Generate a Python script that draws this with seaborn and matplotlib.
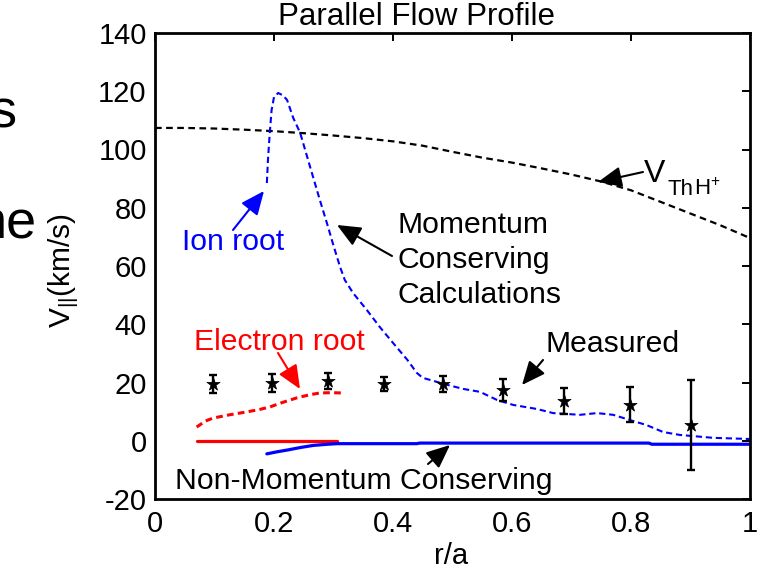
import matplotlib
matplotlib.use("Agg")
import matplotlib.pyplot as plt
import seaborn as sns
import pandas as pd

# ---- data -------------------------------------------------------------
# ion thermal speed V_Th,H+
r_vth = [0.0, 0.05, 0.1, 0.15, 0.2, 0.25, 0.3, 0.35, 0.4, 0.45, 0.5,
         0.55, 0.6, 0.65, 0.7, 0.75, 0.8, 0.85, 0.9, 0.95, 1.0]
v_vth = [107.4, 107.4, 107.2, 106.8, 106.3, 105.6, 104.8, 103.9, 102.8,
         101.3, 99.2, 97.2, 95.5, 93.5, 91.4, 89.0, 86.0, 82.0, 78.0,
         74.0, 69.6]

# momentum-conserving calculation, ion root
r_ion_mc = [0.188, 0.19, 0.193, 0.196, 0.2, 0.207, 0.215, 0.222, 0.232,
            0.244, 0.26, 0.277, 0.29, 0.30, 0.311, 0.319, 0.333, 0.356,
            0.378, 0.40, 0.424, 0.44, 0.45, 0.474, 0.491, 0.518, 0.546,
            0.575, 0.602, 0.642, 0.669, 0.714, 0.743, 0.77, 0.80, 0.826,
            0.854, 0.882, 0.938, 1.0]
v_ion_mc = [88.5, 97.0, 106.0, 113.6, 118.0, 119.4, 118.6, 117.0, 111.0,
            105.7, 94.5, 82.7, 74.0, 67.0, 59.7, 55.2, 50.7, 44.9, 39.0,
            33.6, 27.8, 23.3, 21.6, 20.2, 19.2, 17.8, 16.8, 14.0, 12.3,
            10.9, 9.5, 8.9, 9.5, 8.9, 7.0, 5.4, 3.0, 2.0, 1.0, 0.6]

# momentum-conserving calculation, electron root
r_ele_mc = [0.07, 0.085, 0.098, 0.125, 0.154, 0.175, 0.193, 0.215, 0.238,
            0.26, 0.277, 0.295, 0.316]
v_ele_mc = [4.7, 6.8, 7.8, 8.9, 9.9, 10.7, 11.6, 13.2, 14.7, 15.8, 16.4,
            16.5, 16.4]

# non-momentum-conserving calculation, electron root
r_ele_nmc = [0.07, 0.306]
v_ele_nmc = [0.0, 0.0]

# non-momentum-conserving calculation, ion root
r_ion_nmc = [0.188, 0.205, 0.222, 0.245, 0.266, 0.29, 0.306, 0.44, 0.445,
             0.83, 0.835, 1.0]
v_ion_nmc = [-4.5, -3.8, -3.2, -2.3, -1.6, -1.2, -1.0, -1.0, -0.8, -0.8,
             -1.2, -1.2]

# measured parallel flow with error bars
r_meas = [0.098, 0.196, 0.291, 0.385, 0.484, 0.585, 0.687, 0.798, 0.901]
v_meas = [19.5, 19.8, 20.5, 19.5, 19.5, 17.4, 13.7, 12.3, 5.4]
e_meas = [3.1, 3.2, 2.9, 2.5, 2.6, 3.9, 4.4, 6.0, 15.3]

x_ticks = [0, 0.2, 0.4, 0.6, 0.8, 1.0]
x_tick_labels = ["0", "0.2", "0.4", "0.6", "0.8", "1"]
y_ticks = [-20, 0, 20, 40, 60, 80, 100, 120, 140]

# ---- style ------------------------------------------------------------
sns.set_theme(style="white")
plt.rcParams["font.family"] = ["Liberation Sans", "DejaVu Sans"]
plt.rcParams["mathtext.default"] = "regular"
plt.rcParams["axes.unicode_minus"] = False

W, H = 761, 571
fig = plt.figure(figsize=(W / 100, H / 100), dpi=100)
ax = fig.add_axes([155 / W, 1 - 499 / H, 595 / W, 466 / H])


def fxy(px, py):
    """pixel position (from top-left) -> figure fraction"""
    return (px / W, 1 - py / H)


def curve(x, y, color, lw, ls):
    df = pd.DataFrame({"r": x, "v": y})
    sns.lineplot(data=df, x="r", y="v", ax=ax, color=color, lw=lw,
                 sort=False, estimator=None)
    ln = ax.lines[-1]
    if ls is not None:
        ln.set_dashes(ls)
    ln.set_dash_capstyle("butt")


curve(r_vth, v_vth, "black", 1.6, (3, 2))
curve(r_ion_mc, v_ion_mc, "#0000ff", 1.5, (3, 1.8))
curve(r_ele_mc, v_ele_mc, "#ff0000", 2.2, (2.2, 1.4))
curve(r_ele_nmc, v_ele_nmc, "#ff0000", 2.3, None)
curve(r_ion_nmc, v_ion_nmc, "#0000ff", 2.3, None)

ax.errorbar(r_meas, v_meas, yerr=e_meas, fmt="none", ecolor="black",
            elinewidth=1.7, capsize=3.2, capthick=1.7, zorder=4)
meas_df = pd.DataFrame({"r": r_meas, "v": v_meas})
sns.scatterplot(data=meas_df, x="r", y="v", ax=ax, marker="*", s=100,
                color="black", edgecolor="black", linewidth=0.5, zorder=5)

# ---- axes -------------------------------------------------------------
ax.set_xlim(0, 1)
ax.set_ylim(-20, 140)
ax.set_xticks(x_ticks)
ax.set_xticklabels(x_tick_labels)
ax.set_yticks(y_ticks)
ax.set_xlabel("")
ax.set_ylabel("")
ax.tick_params(direction="in", top=True, right=True, length=6, width=1.4,
               labelsize=21, colors="black", pad=6)
ax.tick_params(axis="x", pad=8)
for sp in ax.spines.values():
    sp.set_visible(True)
    sp.set_color("black")
    sp.set_linewidth(2.0)

# ---- texts ------------------------------------------------------------
fs = 21.7
fig.text(*fxy(417, 17), "Parallel Flow Profile", fontsize=22.5,
         ha="center", va="center", color="black")
fig.text(*fxy(451, 556), "r/a", fontsize=21, ha="center", va="center",
         color="black")
fig.text(*fxy(64, 270), r"V$_{||}$(km/s)", fontsize=21.5, rotation=90,
         ha="center", va="center", color="black")

fig.text(*fxy(182, 250), "Ion root", fontsize=fs, color="#0000ff",
         va="baseline")
fig.text(*fxy(397, 233), "Momentum", fontsize=fs, color="black",
         va="baseline")
fig.text(*fxy(397, 268), "Conserving", fontsize=fs, color="black",
         va="baseline")
fig.text(*fxy(397, 303), "Calculations", fontsize=fs, color="black",
         va="baseline")
fig.text(*fxy(194, 350), "Electron root", fontsize=fs, color="#ff0000",
         va="baseline")
fig.text(*fxy(546, 352), "Measured", fontsize=fs, color="black",
         va="baseline")
fig.text(*fxy(175, 489), "Non-Momentum Conserving", fontsize=fs,
         color="black", va="baseline")
fig.text(*fxy(644, 182), "V", fontsize=23, color="black", va="baseline")
fig.text(*fxy(667, 195), "Th", fontsize=16, color="black", va="baseline")
fig.text(*fxy(694, 195), r"H$^{+}$", fontsize=16, color="black",
         va="baseline")

# partial slide text at the left edge
fig.text(*fxy(17, 128), "s", fontsize=39, color="black", ha="right",
         va="baseline")
fig.text(*fxy(36, 237), "he", fontsize=39, color="black", ha="right",
         va="baseline")

# ---- arrows -----------------------------------------------------------
def arrow(tail, tip, color):
    ax.annotate("", xy=fxy(*tip), xycoords="figure fraction",
                xytext=fxy(*tail), textcoords="figure fraction",
                arrowprops=dict(arrowstyle="-|>,head_length=0.8,head_width=0.35",
                                mutation_scale=18, lw=1.5, color=color,
                                shrinkA=0, shrinkB=0),
                annotation_clip=False)


arrow((233, 230), (264, 191), "#0000ff")
arrow((392, 256), (337, 225), "black")
arrow((643, 172), (598, 182), "black")
arrow((278, 353), (300, 389), "#ff0000")
arrow((543, 360), (522, 385), "black")
arrow((428, 464), (450, 445), "black")

fig.savefig("out.png", dpi=100)
